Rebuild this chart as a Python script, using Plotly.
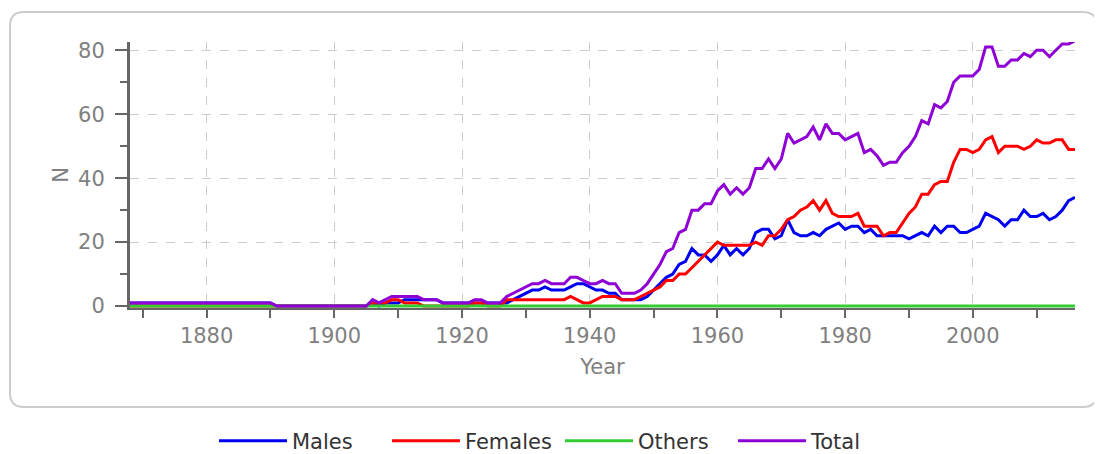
import plotly.graph_objects as go

years = list(range(1868, 2017))

males = (
    [1] * 23 + [0] * 15 +
    [1, 0, 1, 1, 1, 2, 2, 2, 2, 2, 2, 1, 1, 1, 1, 1, 1, 1, 1, 1, 1] +          # 1906-1926
    [1, 2, 3, 4, 5, 5, 6, 5, 5, 5, 6, 7, 7, 6, 5, 5, 4, 4, 2, 2, 2, 2, 3] +     # 1927-1949
    [5, 7, 9, 10, 13, 14, 18, 16, 16, 14] +                                     # 1950-1959
    [16, 19, 16, 18, 16, 18, 23, 24, 24, 21] +                                  # 1960-1969
    [22, 27, 23, 22, 22, 23, 22, 24, 25, 26] +                                  # 1970-1979
    [24, 25, 25, 23, 24, 22, 22, 22, 22, 22] +                                  # 1980-1989
    [21, 22, 23, 22, 25, 23, 25, 25, 23, 23] +                                  # 1990-1999
    [24, 25, 29, 28, 27, 25, 27, 27, 30, 28] +                                  # 2000-2009
    [28, 29, 27, 28, 30, 33, 34]                                                # 2010-2016
)

females = (
    [0] * 38 +
    [1, 1, 1, 2, 2, 1, 1, 1, 0, 0, 0, 0, 0, 0, 0, 0, 1, 1, 0, 0, 0] +          # 1906-1926
    [2, 2, 2, 2, 2, 2, 2, 2, 2, 2, 3, 2, 1, 1, 2, 3, 3, 3, 2, 2, 2, 3, 4] +     # 1927-1949
    [5, 6, 8, 8, 10, 10, 12, 14, 16, 18] +                                      # 1950-1959
    [20, 19, 19, 19, 19, 19, 20, 19, 22, 22] +                                  # 1960-1969
    [24, 27, 28, 30, 31, 33, 30, 33, 29, 28] +                                  # 1970-1979
    [28, 28, 29, 25, 25, 25, 22, 23, 23, 26] +                                  # 1980-1989
    [29, 31, 35, 35, 38, 39, 39, 45, 49, 49] +                                  # 1990-1999
    [48, 49, 52, 53, 48, 50, 50, 50, 49, 50] +                                  # 2000-2009
    [52, 51, 51, 52, 52, 49, 49]                                                # 2010-2016
)

others = [0] * 149

total = (
    [1] * 23 + [0] * 15 +
    [2, 1, 2, 3, 3, 3, 3, 3, 2, 2, 2, 1, 1, 1, 1, 1, 2, 2, 1, 1, 1] +          # 1906-1926
    [3, 4, 5, 6, 7, 7, 8, 7, 7, 7, 9, 9, 8, 7, 7, 8, 7, 7, 4, 4, 4, 5, 7] +     # 1927-1949
    [10, 13, 17, 18, 23, 24, 30, 30, 32, 32] +                                  # 1950-1959
    [36, 38, 35, 37, 35, 37, 43, 43, 46, 43] +                                  # 1960-1969
    [46, 54, 51, 52, 53, 56, 52, 57, 54, 54] +                                  # 1970-1979
    [52, 53, 54, 48, 49, 47, 44, 45, 45, 48] +                                  # 1980-1989
    [50, 53, 58, 57, 63, 62, 64, 70, 72, 72] +                                  # 1990-1999
    [72, 74, 81, 81, 75, 75, 77, 77, 79, 78] +                                  # 2000-2009
    [80, 80, 78, 80, 82, 82, 83]                                                # 2010-2016
)

series_names = ["Males", "Females", "Others", "Total"]
series_values = [males, females, others, total]
series_colors = ["#0000f0", "#ff0000", "#33cc33", "#8e00d4"]

y_ticks = [0, 20, 40, 60, 80]
x_ticks = [1880, 1900, 1920, 1940, 1960, 1980, 2000]

# page body has an 8px margin, so the figure is drawn 8px smaller and all
# pixel positions below are the reference's minus 8
OFF = 8
W, H = 1102 - OFF, 454 - OFF
L, T = 130 - OFF, 42 - OFF
R = W - (1075 - OFF)
B = H - (308 - OFF)
PW, PH = W - L - R, H - T - B

def px2paper(px, py):
    px, py = px - OFF, py - OFF
    return (px - L) / PW, (H - B - py) / PH

FONT = "DejaVu Sans"
FS = 21

fig = go.Figure()
for name, vals, col in zip(series_names, series_values, series_colors):
    fig.add_trace(go.Scatter(x=years, y=vals, name=name, mode="lines",
                             line=dict(color=col, width=3)))

# rounded frame around the plot (reference pixel coordinates)
x0, y0, x1, y1, r = 10, 12, 1097, 407, 14
def P(px, py):
    a, b = px2paper(px, py)
    return f"{a:.5f},{b:.5f}"
path = (f"M{P(x0 + r, y0)} L{P(x1 - r, y0)} Q{P(x1, y0)} {P(x1, y0 + r)} "
        f"L{P(x1, y1 - r)} Q{P(x1, y1)} {P(x1 - r, y1)} L{P(x0 + r, y1)} "
        f"Q{P(x0, y1)} {P(x0, y1 - r)} L{P(x0, y0 + r)} Q{P(x0, y0)} {P(x0 + r, y0)} Z")
fig.add_shape(type="path", path=path, xref="paper", yref="paper",
              line=dict(color="#cccccc", width=2), layer="below")

lx, ly = px2paper(214, 441)
fig.update_layout(
    width=W, height=H,
    margin=dict(l=L, r=R, t=T, b=B, pad=0, autoexpand=False),
    paper_bgcolor="white", plot_bgcolor="white",
    font=dict(family=FONT, size=FS, color="#808080"),
    showlegend=True,
    legend=dict(orientation="h", x=lx, y=ly, xanchor="left", yanchor="middle",
                font=dict(family=FONT, size=FS, color="#333333"),
                entrywidth=90, entrywidthmode="pixels", itemwidth=68,
                borderwidth=0, bgcolor="rgba(0,0,0,0)"),
    xaxis=dict(range=[1868, 2016], tickvals=x_ticks, ticks="outside", ticklen=8,
               tickwidth=2, tickcolor="#666666", showline=True, linecolor="#666666",
               linewidth=2, showgrid=True, gridcolor="#cccccc", griddash="dash",
               gridwidth=1, zeroline=False,
               minor=dict(dtick=10, tick0=1870, ticks="outside", ticklen=8,
                          tickwidth=2, tickcolor="#666666", showgrid=False),
               title=dict(text="Year", standoff=12, font=dict(size=FS, color="#808080")),
               tickfont=dict(size=FS, color="#808080")),
    yaxis=dict(range=[-0.6, 82.6], tickvals=y_ticks, ticks="outside", ticklen=12,
               tickwidth=2, tickcolor="#666666", showline=True, linecolor="#666666",
               linewidth=3, showgrid=True, gridcolor="#cccccc", griddash="dash",
               gridwidth=1, zeroline=False, ticklabelstandoff=6,
               minor=dict(dtick=10, tick0=10, ticks="outside", ticklen=7,
                          tickwidth=2, tickcolor="#666666", showgrid=False),
               title=dict(text="N", standoff=4, font=dict(size=FS, color="#808080")),
               tickfont=dict(size=FS, color="#808080")),
)

fig.write_html("out.html")
